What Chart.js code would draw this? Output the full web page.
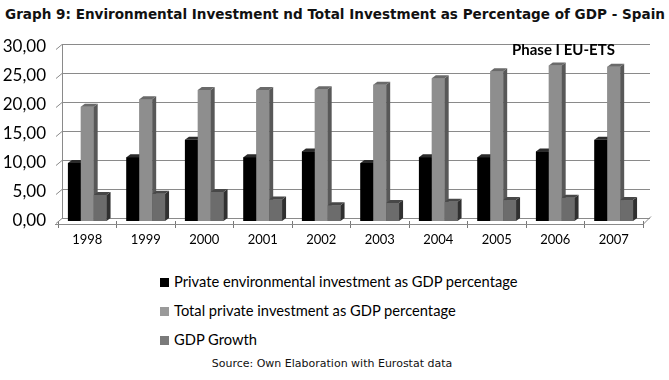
<!DOCTYPE html>
<html>
<head>
<meta charset="utf-8">
<script src="https://cdn.jsdelivr.net/npm/chart.js@4/dist/chart.umd.min.js"></script>
<style>
  body { margin: 0; background: #fff; width: 669px; height: 380px; position: relative; overflow: hidden; }
  #title { position: absolute; left: 5px; top: 6px; font: bold 14px "DejaVu Sans", sans-serif; color: #111; white-space: nowrap; transform-origin: 0 0; }
  #chartBox { position: absolute; left: 0; top: 0; width: 669px; height: 260px; }
  #legend { position: absolute; left: 160px; top: 272px; font: 14.7px Lato, sans-serif; color: #000; }
  #legend div { height: 29px; line-height: 18px; white-space: nowrap; }
  #legend span { display: inline-block; width: 9px; height: 9px; margin-right: 5px; vertical-align: 0px; }
  #source { position: absolute; left: 0; width: 664px; top: 357px; text-align: center; font: 11px "DejaVu Sans", sans-serif; color: #111; }
</style>
</head>
<body>
<div id="title">Graph 9: Environmental Investment nd Total Investment as Percentage of GDP - Spain</div>
<div id="chartBox"><canvas id="barChart" width="669" height="260"></canvas></div>
<div id="legend"></div>
<div id="source">Source: Own Elaboration with Eurostat data</div>
<script>
const years = ['1998', '1999', '2000', '2001', '2002', '2003', '2004', '2005', '2006', '2007'];
const envInvest = [10, 11, 14, 11, 12, 10, 11, 11, 12, 14];
const totalInvest = [19.7, 21, 22.6, 22.6, 22.7, 23.5, 24.6, 25.8, 26.8, 26.6];
const gdpGrowth = [4.5, 4.7, 5.0, 3.7, 2.7, 3.1, 3.3, 3.6, 4.0, 3.6];
const seriesNames = [
  'Private environmental investment as GDP percentage',
  'Total private investment as GDP percentage',
  'GDP Growth'
];
const yTicks = [0, 5, 10, 15, 20, 25, 30];

// front / side / top colours for the fake 3D look
const faces = [
  { front: '#000000', side: '#1a1a1a', top: '#2a2a2a' },
  { front: '#8e8e8e', side: '#585858', top: '#6a6a6a' },
  { front: '#6c6c6c', side: '#303030', top: '#484848' }
];
const depthX = 4, depthY = 3;

// squeeze the title to the width it has in the original
const title = document.getElementById('title');
const tw = title.getBoundingClientRect().width;
title.style.transform = 'scaleX(' + (660 / tw) + ')';

const bars3d = {
  id: 'bars3d',
  beforeDatasetsDraw(chart) {
    const ctx = chart.ctx, y = chart.scales.y, a = chart.chartArea;
    ctx.save();
    ctx.strokeStyle = '#8a8a8a';
    ctx.lineWidth = 1;
    yTicks.forEach(v => {
      const py = Math.round(y.getPixelForValue(v)) + 0.5;
      ctx.beginPath();
      ctx.moveTo(a.left - 2, py + 2);
      ctx.lineTo(a.left + depthX, py - depthY);
      ctx.lineTo(a.right + depthX + 3, py - depthY);
      ctx.stroke();
    });
    // back-left wall
    ctx.beginPath();
    ctx.moveTo(a.left + depthX + 0.5, y.getPixelForValue(30) - depthY);
    ctx.lineTo(a.left + depthX + 0.5, y.getPixelForValue(0) - depthY);
    ctx.stroke();
    // floor front edge
    const fy = Math.round(y.getPixelForValue(0)) + 3.5;
    ctx.beginPath();
    ctx.moveTo(a.left - 3, fy);
    ctx.lineTo(a.right, fy);
    ctx.lineTo(a.right + depthX + 4, fy - depthY - 5);
    ctx.stroke();
    ctx.restore();
  },
  afterDatasetsDraw(chart) {
    const ctx = chart.ctx;
    const metas = chart.data.datasets.map((d, i) => chart.getDatasetMeta(i));
    ctx.save();
    for (let i = 0; i < years.length; i++) {
      metas.forEach((meta, d) => {
        const el = meta.data[i];
        const { x, y, base, width } = el.getProps(['x', 'y', 'base', 'width'], true);
        const l = x - width / 2, r = x + width / 2;
        const c = faces[d];
        ctx.fillStyle = c.front;
        ctx.fillRect(l, y, width, base - y);
        ctx.fillStyle = c.side;
        ctx.beginPath();
        ctx.moveTo(r, y); ctx.lineTo(r + depthX, y - depthY);
        ctx.lineTo(r + depthX, base - depthY); ctx.lineTo(r, base);
        ctx.closePath(); ctx.fill();
        ctx.fillStyle = c.top;
        ctx.beginPath();
        ctx.moveTo(l, y); ctx.lineTo(l + depthX, y - depthY);
        ctx.lineTo(r + depthX, y - depthY); ctx.lineTo(r, y);
        ctx.closePath(); ctx.fill();
      });
    }
    // annotation
    ctx.fillStyle = '#000';
    ctx.font = 'bold 15px Lato, sans-serif';
    ctx.textBaseline = 'middle';
    ctx.fillText('Phase I EU-ETS', 512, 50);
    ctx.restore();
  }
};

const chart = new Chart(document.getElementById('barChart'), {
  type: 'bar',
  data: {
    labels: years,
    datasets: [
      { label: seriesNames[0], data: envInvest, backgroundColor: faces[0].front },
      { label: seriesNames[1], data: totalInvest, backgroundColor: faces[1].front },
      { label: seriesNames[2], data: gdpGrowth, backgroundColor: faces[2].front }
    ]
  },
  options: {
    responsive: false,
    animation: false,
    layout: { padding: { left: 0, right: 26, top: 47, bottom: 9 } },
    datasets: { bar: { categoryPercentage: 0.66, barPercentage: 1.0 } },
    plugins: {
      legend: { display: false },
      tooltip: { enabled: false }
    },
    scales: {
      x: {
        grid: { drawOnChartArea: false, drawTicks: true, tickLength: 7, offset: true, color: '#777' },
        border: { display: false },
        ticks: { color: '#000', padding: 4, font: { family: 'Lato', size: 13 } },
        afterFit(scale) { scale.height = 30; }
      },
      y: {
        min: 0, max: 30,
        afterBuildTicks(scale) { scale.ticks = yTicks.map(v => ({ value: v })); },
        grid: { display: false },
        border: { display: false },
        ticks: {
          color: '#000', padding: 4,
          font: { family: 'Lato', size: 17 },
          callback: v => v.toFixed(2).replace('.', ',')
        },
        afterFit(scale) { scale.width = 58; }
      }
    }
  },
  plugins: [bars3d]
});

const legend = document.getElementById('legend');
chart.data.datasets.forEach((ds, i) => {
  const row = document.createElement('div');
  const sw = document.createElement('span');
  sw.style.background = i === 0 ? '#000' : (i === 1 ? '#9a9a9a' : '#7a7a7a');
  row.appendChild(sw);
  row.appendChild(document.createTextNode(ds.label));
  legend.appendChild(row);
});
</script>
</body>
</html>
